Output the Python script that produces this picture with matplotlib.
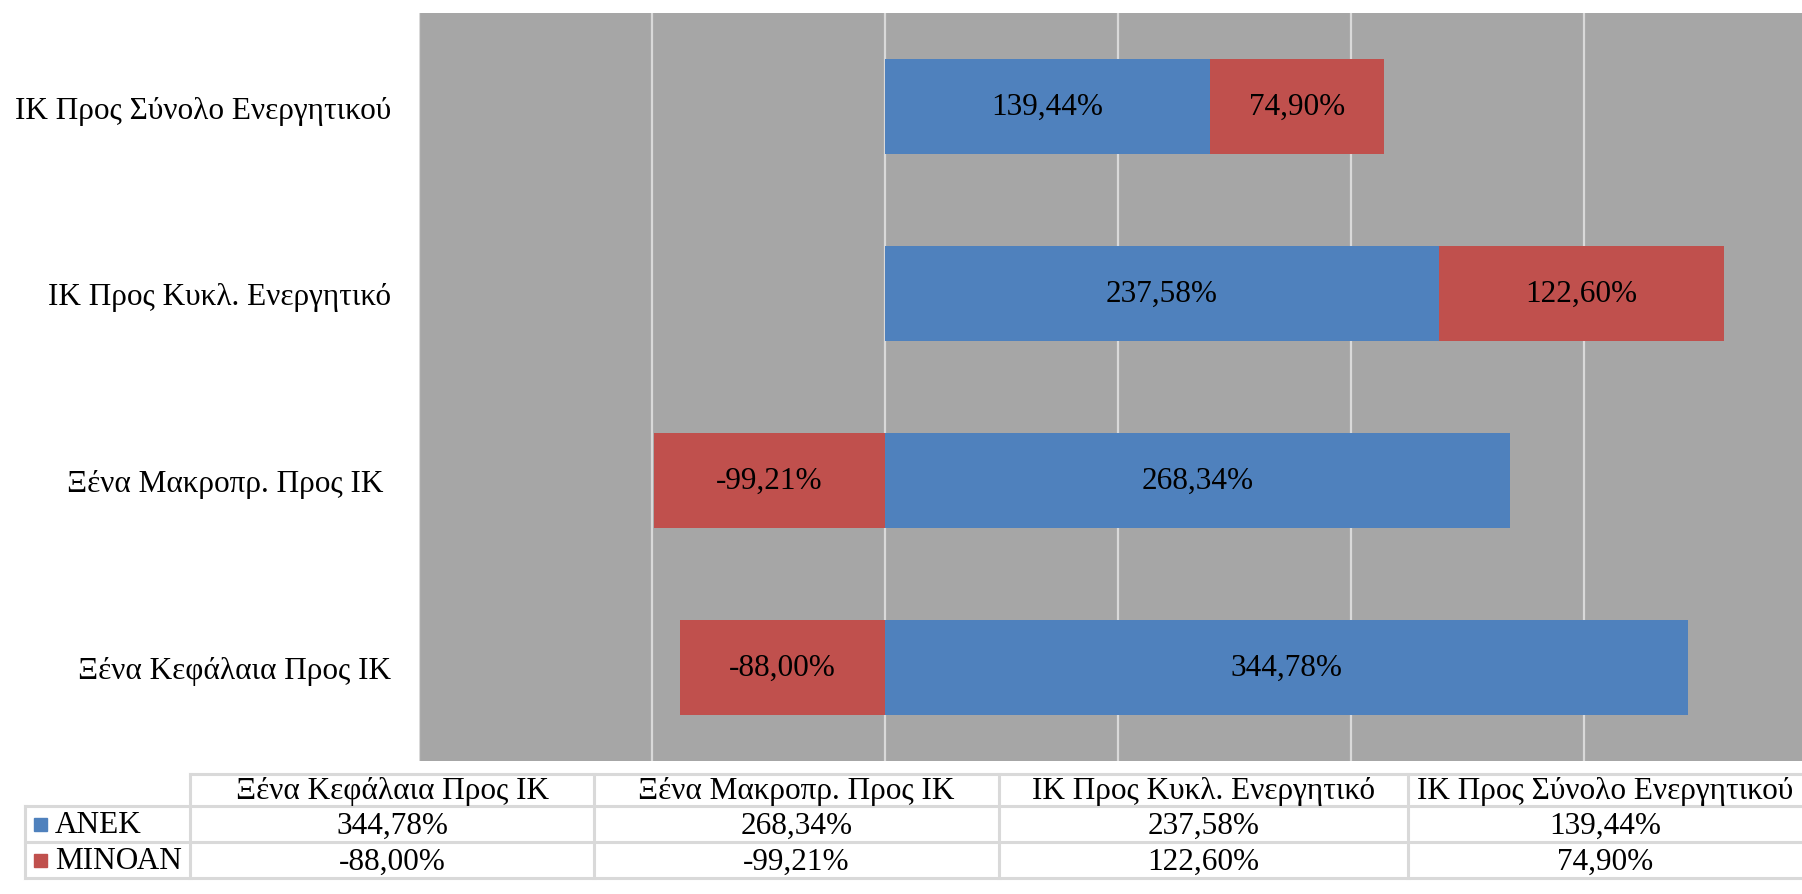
import matplotlib
matplotlib.use("Agg")
import matplotlib.pyplot as plt
import numpy as np

plt.rcParams["font.family"] = ["Liberation Serif", "DejaVu Serif"]

# ---------------- Data ----------------
categories = [
    "Ξένα Κεφάλαια Προς ΙΚ",
    "Ξένα Μακροπρ. Προς ΙΚ ",
    "ΙΚ Προς Κυκλ. Ενεργητικό",
    "ΙΚ Προς Σύνολο Ενεργητικού",
]
series_names = ["ΑΝΕΚ", "ΜΙΝΟΑΝ"]
anek = [344.78, 268.34, 237.58, 139.44]
minoan = [-88.00, -99.21, 122.60, 74.90]
colors = ["#4F81BD", "#C0504D"]

FS = 22.5


def fmt(v):
    return f"{v:.2f}".replace(".", ",") + "%"


W, H = 1802, 895
fig = plt.figure(figsize=(W / 100, H / 100), dpi=100)

# axes in pixel layout
ax_l, ax_r, ax_t, ax_b = 419, 1802, 14, 762
ax = fig.add_axes([ax_l / W, 1 - ax_b / H, (ax_r - ax_l) / W, (ax_b - ax_t) / H])
ax.set_facecolor("#A6A6A6")

y = np.arange(len(categories))
h = 0.51
anek_a = np.array(anek)
min_a = np.array(minoan)
# stack: positives on top of positives, negatives from zero
min_left = np.where(min_a >= 0, np.maximum(anek_a, 0), 0)

ax.barh(y, anek_a, height=h, color=colors[0], zorder=3)
ax.barh(y, min_a, left=min_left, height=h, color=colors[1], zorder=3)

for i in range(len(categories)):
    ax.text(anek_a[i] / 2, y[i], fmt(anek_a[i]), ha="center", va="center",
            fontsize=FS, color="black", zorder=4)
    ax.text(min_left[i] + min_a[i] / 2, y[i], fmt(min_a[i]), ha="center",
            va="center", fontsize=FS, color="black", zorder=4)

ax.set_xticks(np.arange(-200, 401, 100))
ax.set_xticklabels([])
ax.set_xlim(-200, (ax_r - 885) / 2.33)
ax.set_ylim(-0.5, 3.5)
ax.grid(axis="x", color="#D9D9D9", linewidth=1.6, zorder=1)
ax.set_axisbelow(True)
ax.tick_params(length=0)
ax.set_yticks(y)
ax.set_yticklabels(categories, fontsize=FS)
ax.tick_params(axis="y", pad=20)
for s in ax.spines.values():
    s.set_visible(False)

# ---------------- Data table ----------------
tab = fig.add_axes([0, 0, 1, 1])
tab.set_xlim(0, W)
tab.set_ylim(H, 0)
tab.axis("off")

col_x = [190, 594, 999, 1408, 1802]
row_y = [775, 807, 843, 879]
lbl_l = 25
lc = "#D9D9D9"
lw = 2.2

# horizontal lines
tab.plot([col_x[0], col_x[-1]], [row_y[0]] * 2, color=lc, lw=lw)
for ry in row_y[1:]:
    tab.plot([lbl_l, col_x[-1]], [ry] * 2, color=lc, lw=lw)
# vertical lines
tab.plot([lbl_l, lbl_l], [row_y[1], row_y[-1]], color=lc, lw=lw)
for cx in col_x[:-1]:
    tab.plot([cx, cx], [row_y[0], row_y[-1]], color=lc, lw=lw)

for j, cat in enumerate(categories):
    cx = (col_x[j] + col_x[j + 1]) / 2
    tab.text(cx, (row_y[0] + row_y[1]) / 2 + 1, cat.strip(), ha="center",
             va="center", fontsize=FS)

for r, (name, vals) in enumerate(zip(series_names, [anek, minoan])):
    cy = (row_y[r + 1] + row_y[r + 2]) / 2 + 1
    tab.add_patch(plt.Rectangle((34, cy - 7), 13, 13, color=colors[r]))
    tab.text(55, cy, name, ha="left", va="center", fontsize=FS)
    for j, v in enumerate(vals):
        cx = (col_x[j] + col_x[j + 1]) / 2
        tab.text(cx, cy, fmt(v), ha="center", va="center", fontsize=FS)

fig.savefig("out.png", dpi=100, facecolor="white")
